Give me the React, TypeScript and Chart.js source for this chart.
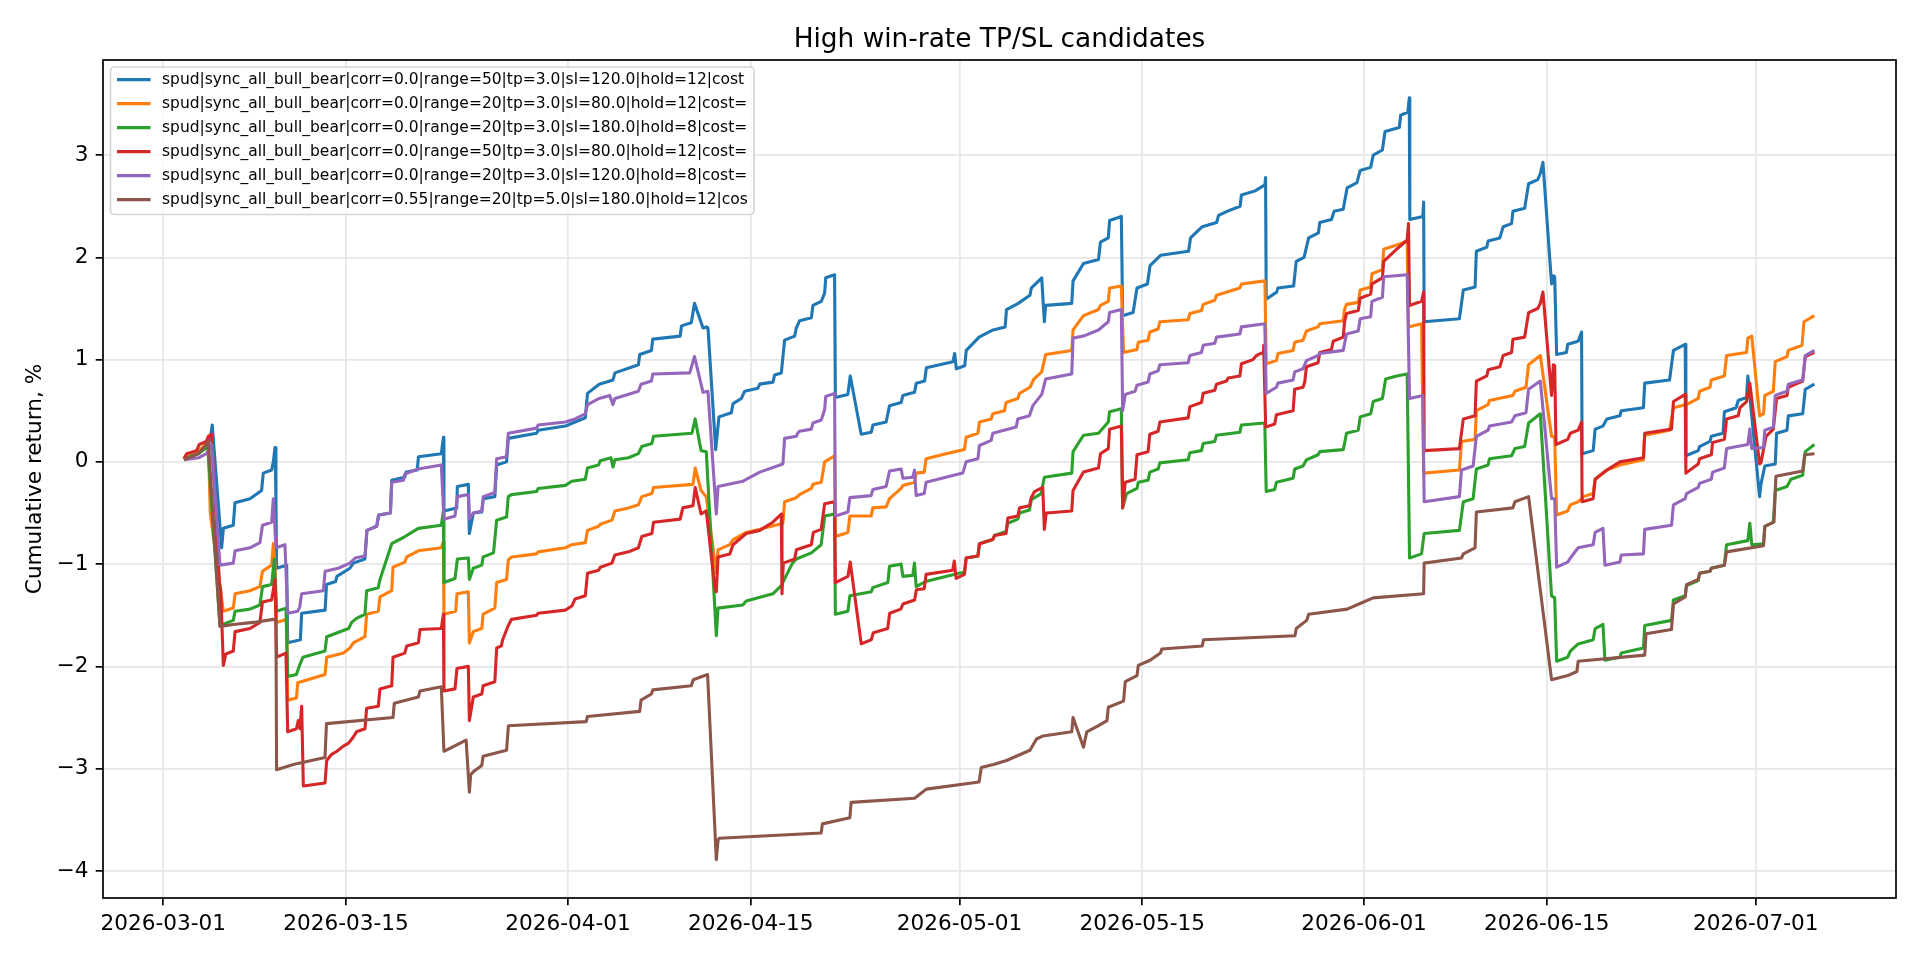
import { useEffect, useRef } from 'react';
import { Chart, registerables } from 'chart.js';

Chart.register(...registerables);

const TITLE = 'High win-rate TP/SL candidates';
const Y_LABEL = 'Cumulative return, %';

// x values are days since 2026-03-01
const xTickDays = [0, 14, 31, 45, 61, 75, 92, 106, 122];
const xTickLabels = ['2026-03-01', '2026-03-15', '2026-04-01', '2026-04-15', '2026-05-01', '2026-05-15', '2026-06-01', '2026-06-15', '2026-07-01'];
const yTicks = [-4, -3, -2, -1, 0, 1, 2, 3];

const seriesLabels = [
  'spud|sync_all_bull_bear|corr=0.0|range=50|tp=3.0|sl=120.0|hold=12|cost',
  'spud|sync_all_bull_bear|corr=0.0|range=20|tp=3.0|sl=80.0|hold=12|cost=',
  'spud|sync_all_bull_bear|corr=0.0|range=20|tp=3.0|sl=180.0|hold=8|cost=',
  'spud|sync_all_bull_bear|corr=0.0|range=50|tp=3.0|sl=80.0|hold=12|cost=',
  'spud|sync_all_bull_bear|corr=0.0|range=20|tp=3.0|sl=120.0|hold=8|cost=',
  'spud|sync_all_bull_bear|corr=0.55|range=20|tp=5.0|sl=180.0|hold=12|cos',
];
const seriesColors = ['#1f77b4', '#ff7f0e', '#2ca02c', '#d62728', '#9467bd', '#8c564b'];

// [day, cumulative return %]
const blueRet = [[1.58,0.03],[2.1,0.06],[2.7,0.1],[3.3,0.17],[3.6,0.22],[3.75,0.36],[4.47,-0.84],[4.6,-0.65],[5.36,-0.62],[5.49,-0.4],[6.64,-0.36],[7.53,-0.28],[7.66,-0.11],[8.3,-0.08],[8.43,0],[8.56,0.14],[8.63,-0.36],[8.68,-1.04],[9.45,-1.01],[9.53,-1.77],[10.5,-1.74],[10.6,-1.48],[12.4,-1.45],[12.5,-1.2],[13.2,-1.17],[13.3,-1.12],[14.3,-1.04],[14.55,-0.99],[15.45,-0.95],[15.6,-0.67],[16.35,-0.63],[16.5,-0.52],[17.4,-0.5],[17.5,-0.18],[18.5,-0.15],[18.6,-0.1],[19.45,-0.08],[19.55,0.05],[21.3,0.08],[21.46,0.24],[21.5,-0.48],[22.48,-0.45],[22.53,-0.24],[23.37,-0.22],[23.45,-0.7],[23.75,-0.5],[24.4,-0.49],[24.52,-0.36],[25.4,-0.34],[25.54,-0.03],[26.3,0.0],[26.43,0.23],[28.6,0.28],[28.72,0.31],[30.8,0.35],[31.55,0.39],[32.33,0.43],[32.5,0.67],[33.4,0.76],[34.45,0.8],[34.6,0.87],[36.4,0.95],[36.5,1.05],[37.4,1.09],[37.5,1.2],[39.6,1.23],[39.7,1.33],[40.45,1.36],[40.7,1.55],[41.35,1.31],[41.6,1.32],[41.73,1.31],[42.32,0.12],[42.57,0.44],[43.52,0.48],[43.65,0.57],[44.29,0.62],[44.54,0.69],[45.56,0.72],[45.69,0.76],[46.71,0.78],[46.84,0.85],[47.35,0.87],[47.6,1.19],[48.37,1.23],[48.5,1.31],[48.75,1.38],[49.65,1.41],[49.77,1.53],[50.41,1.57],[50.67,1.65],[50.75,1.8],[51.43,1.83],[51.49,0.63],[52.45,0.66],[52.63,0.84],[53.47,0.27],[54.24,0.29],[54.37,0.36],[55.38,0.39],[55.64,0.55],[56.53,0.58],[56.66,0.65],[57.55,0.68],[57.69,0.77],[58.33,0.79],[58.46,0.92],[60.5,0.98],[60.63,1.06],[60.76,0.91],[61.4,0.94],[61.52,1.09],[62.5,1.22],[63.57,1.29],[64.5,1.32],[64.6,1.49],[65.5,1.55],[66.4,1.63],[66.5,1.7],[67.3,1.8],[67.5,1.37],[67.6,1.53],[69.6,1.55],[69.7,1.77],[70.5,1.94],[71.65,1.98],[71.8,2.15],[72.4,2.19],[72.5,2.36],[73.4,2.4],[73.5,1.43],[74.3,1.46],[74.6,1.7],[75.4,1.74],[75.6,1.92],[76.4,2.02],[78.55,2.06],[78.7,2.19],[79.6,2.3],[80.7,2.34],[80.85,2.41],[81.5,2.45],[82.5,2.5],[82.6,2.61],[83.65,2.65],[84.4,2.71],[84.45,2.78],[84.5,1.59],[85.3,1.66],[85.4,1.7],[86.6,1.72],[86.8,1.96],[87.4,2.0],[87.75,2.19],[88.5,2.24],[88.6,2.34],[89.5,2.37],[89.7,2.45],[90.4,2.47],[90.7,2.68],[91.45,2.73],[91.7,2.85],[92.5,2.88],[92.7,3.0],[93.4,3.05],[93.6,3.23],[94.7,3.27],[94.8,3.39],[95.35,3.42],[95.46,3.56],[95.5,2.37],[96.5,2.4],[96.56,2.54],[96.6,1.37],[99.3,1.4],[99.6,1.68],[100.5,1.71],[100.6,2.06],[101.4,2.1],[101.5,2.16],[102.4,2.19],[102.65,2.3],[103.3,2.33],[103.4,2.45],[104.3,2.48],[104.6,2.72],[105.3,2.76],[105.5,2.82],[105.7,2.93],[106.36,1.74],[106.5,1.82],[106.6,1.81],[106.75,1.05],[107.5,1.07],[107.6,1.15],[108.4,1.18],[108.66,1.27],[108.7,0.08],[109.55,0.11],[109.7,0.32],[110.3,0.35],[110.6,0.42],[111.6,0.45],[111.7,0.5],[113.4,0.53],[113.5,0.77],[115.4,0.8],[115.7,1.09],[116.6,1.15],[116.65,0.06],[117.6,0.11],[117.7,0.15],[118.5,0.2],[118.6,0.25],[119.5,0.28],[119.6,0.49],[120.5,0.53],[120.66,0.6],[121.3,0.63],[121.4,0.84],[122.3,-0.34],[122.4,-0.22],[122.7,-0.04],[123.5,-0.02],[123.6,0.28],[124.4,0.31],[124.5,0.45],[125.6,0.47],[125.8,0.71],[126.5,0.76]];

const orangeRet = [[1.58,0.03],[2.7,0.1],[3.45,0.2],[3.6,-0.5],[4.6,-1.46],[5.36,-1.43],[5.5,-1.29],[6.64,-1.26],[7.4,-1.22],[7.6,-1.07],[8.3,-1.01],[8.43,-0.8],[8.56,-1.0],[8.68,-1.57],[9.45,-1.54],[9.53,-2.33],[10.2,-2.31],[10.3,-2.16],[12.39,-2.08],[12.52,-1.91],[13.8,-1.87],[14.3,-1.82],[14.56,-1.77],[15.45,-1.71],[15.58,-1.49],[16.47,-1.46],[16.6,-1.32],[17.5,-1.26],[17.6,-1.03],[18.5,-0.98],[18.65,-0.93],[19.54,-0.87],[21.3,-0.84],[21.46,-0.78],[21.5,-1.49],[22.4,-1.46],[22.5,-1.29],[23.37,-1.27],[23.45,-1.77],[23.75,-1.66],[24.4,-1.63],[24.5,-1.49],[25.4,-1.43],[25.54,-1.18],[26.3,-1.15],[26.43,-0.96],[26.68,-0.93],[28.6,-0.9],[28.72,-0.88],[30.8,-0.84],[31.3,-0.81],[32.33,-0.79],[32.5,-0.67],[33.35,-0.63],[33.48,-0.61],[34.37,-0.57],[34.6,-0.48],[35.64,-0.45],[36.4,-0.42],[36.66,-0.34],[37.43,-0.31],[37.56,-0.25],[40.58,-0.22],[40.75,-0.06],[41.2,-0.28],[41.6,-0.34],[42.37,-1.09],[42.5,-0.86],[43.4,-0.81],[43.65,-0.76],[44.66,-0.69],[45.7,-0.66],[47.47,-0.6],[47.6,-0.39],[48.5,-0.35],[48.75,-0.32],[49.65,-0.26],[49.77,-0.22],[50.41,-0.2],[50.67,0],[51.43,0.06],[51.49,-0.73],[52.45,-0.69],[52.6,-0.53],[54.23,-0.53],[54.36,-0.45],[55.38,-0.44],[55.64,-0.36],[56.53,-0.26],[56.66,-0.23],[57.55,-0.2],[57.68,-0.11],[58.3,-0.1],[58.44,0.03],[59.97,0.08],[61.38,0.12],[61.51,0.24],[62.41,0.28],[62.53,0.39],[63.43,0.42],[63.55,0.47],[64.44,0.5],[64.57,0.58],[65.47,0.62],[65.6,0.67],[66.4,0.73],[66.7,0.81],[67.3,0.88],[67.6,1.05],[69.6,1.09],[69.7,1.29],[70.5,1.43],[71.65,1.49],[71.8,1.53],[72.4,1.57],[72.5,1.7],[73.4,1.72],[73.57,1.07],[74.6,1.1],[74.7,1.17],[75.45,1.19],[75.58,1.27],[76.22,1.3],[76.35,1.37],[78.52,1.39],[78.65,1.45],[79.54,1.48],[79.67,1.54],[80.56,1.58],[80.69,1.63],[82.48,1.7],[82.6,1.74],[84.4,1.77],[84.5,0.96],[85.28,0.99],[85.4,1.06],[86.56,1.09],[86.68,1.17],[87.32,1.19],[87.58,1.28],[88.47,1.32],[88.6,1.35],[90.4,1.38],[90.5,1.49],[90.65,1.54],[91.55,1.56],[91.7,1.68],[92.5,1.71],[92.6,1.84],[93.4,1.88],[93.5,2.08],[94.5,2.12],[95.3,2.16],[95.4,1.32],[96.4,1.35],[96.56,-0.11],[99.3,-0.08],[99.46,0.2],[100.5,0.22],[100.6,0.5],[101.5,0.56],[101.6,0.6],[103.4,0.65],[103.55,0.69],[104.4,0.73],[104.6,0.95],[105.5,1.04],[106.36,0.25],[106.6,0.24],[106.75,-0.52],[107.6,-0.48],[107.8,-0.42],[108.4,-0.39],[108.66,-0.36],[108.8,-0.34],[109.55,-0.31],[109.7,-0.17],[110.6,-0.08],[111.6,-0.03],[113.4,0.02],[113.5,0.26],[115.4,0.31],[115.7,0.53],[116.7,0.56],[117.6,0.62],[117.7,0.69],[118.5,0.73],[118.6,0.8],[119.6,0.84],[119.77,1.04],[121.3,1.07],[121.4,1.21],[121.7,1.23],[122.3,0.45],[122.6,0.47],[122.7,0.65],[123.35,0.69],[123.5,0.98],[124.4,1.03],[124.5,1.09],[125.55,1.14],[125.7,1.37],[126.5,1.43]];

const greenRet = [[1.58,0.03],[2.7,0.08],[3.4,0.15],[4.34,-1.6],[5.36,-1.55],[5.5,-1.46],[6.64,-1.44],[7.4,-1.4],[7.6,-1.22],[8.3,-1.2],[8.5,-0.95],[8.68,-1.46],[9.4,-1.43],[9.53,-2.1],[10.2,-2.08],[10.47,-1.98],[10.7,-1.91],[12.39,-1.85],[12.52,-1.71],[14.2,-1.63],[14.43,-1.57],[14.8,-1.53],[15.45,-1.49],[15.58,-1.26],[16.47,-1.23],[16.6,-1.15],[17.5,-0.8],[18.52,-0.73],[19.54,-0.65],[21.3,-0.62],[21.46,-0.48],[21.5,-1.18],[22.35,-1.14],[22.53,-0.95],[23.37,-0.94],[23.45,-1.15],[23.75,-1.04],[24.4,-1.01],[24.5,-0.93],[25.3,-0.89],[25.54,-0.57],[26.3,-0.54],[26.43,-0.34],[26.68,-0.32],[28.6,-0.29],[28.72,-0.26],[30.8,-0.23],[31.3,-0.19],[32.33,-0.17],[32.5,-0.06],[33.35,-0.03],[33.48,0.01],[34.3,0.04],[34.45,-0.05],[34.6,0.02],[35.64,0.04],[36.4,0.08],[36.66,0.15],[37.43,0.18],[37.56,0.25],[40.5,0.28],[40.75,0.42],[41.2,0.11],[41.6,0.1],[42.37,-1.7],[42.5,-1.43],[44.4,-1.4],[44.66,-1.36],[46.7,-1.29],[47.35,-1.21],[48.2,-0.99],[48.5,-0.95],[49.65,-0.89],[50.4,-0.81],[50.67,-0.53],[51.43,-0.51],[51.49,-1.49],[52.45,-1.46],[52.6,-1.31],[54.24,-1.27],[54.36,-1.23],[55.51,-1.18],[55.64,-1.02],[56.53,-1.0],[56.66,-1.12],[57.42,-1.11],[57.55,-0.99],[57.68,-1.22],[58.4,-1.17],[60.96,-1.09],[61.38,-1.08],[61.51,-0.94],[62.41,-0.92],[62.53,-0.8],[63.55,-0.76],[63.68,-0.72],[64.57,-0.68],[64.7,-0.6],[65.47,-0.56],[65.6,-0.5],[66.36,-0.47],[66.5,-0.37],[67.26,-0.31],[67.5,-0.15],[69.6,-0.11],[69.7,0.1],[70.5,0.26],[71.65,0.28],[72.4,0.39],[72.5,0.49],[73.4,0.52],[73.5,-0.45],[73.8,-0.31],[74.6,-0.26],[74.7,-0.2],[75.45,-0.18],[75.58,-0.1],[76.22,-0.07],[76.35,-0.01],[78.52,0.02],[78.65,0.09],[79.54,0.11],[79.67,0.18],[80.56,0.2],[80.69,0.26],[82.48,0.29],[82.6,0.36],[84.39,0.38],[84.5,-0.29],[85.15,-0.27],[85.28,-0.2],[86.56,-0.16],[86.68,-0.07],[87.32,-0.04],[87.58,0.02],[88.47,0.07],[88.6,0.1],[90.4,0.12],[90.5,0.18],[90.65,0.28],[91.55,0.31],[91.7,0.44],[92.5,0.47],[92.7,0.59],[93.4,0.62],[93.65,0.81],[94.5,0.84],[95.3,0.86],[95.48,-0.94],[96.4,-0.9],[96.6,-0.7],[99.3,-0.67],[99.6,-0.39],[100.35,-0.36],[100.6,-0.07],[101.5,-0.03],[101.6,0.03],[103.3,0.06],[103.55,0.13],[104.3,0.15],[104.6,0.38],[105.5,0.47],[106.36,-1.31],[106.6,-1.33],[106.75,-1.95],[107.6,-1.91],[107.8,-1.85],[108.4,-1.78],[109.55,-1.74],[109.7,-1.63],[110.3,-1.59],[110.45,-1.94],[111.6,-1.91],[111.7,-1.87],[113.4,-1.82],[113.5,-1.6],[115.55,-1.55],[115.7,-1.35],[116.6,-1.31],[116.7,-1.21],[117.6,-1.16],[117.7,-1.09],[118.5,-1.07],[118.6,-1.04],[119.6,-1.01],[119.77,-0.81],[121.4,-0.77],[121.55,-0.6],[121.7,-0.81],[122.6,-0.8],[122.7,-0.63],[123.35,-0.59],[123.5,-0.28],[124.4,-0.24],[124.7,-0.17],[125.6,-0.13],[125.8,0.1],[126.5,0.17]];

const redRet = [[1.58,0.03],[1.79,0.08],[2.55,0.11],[2.76,0.17],[3.3,0.2],[3.45,0.25],[3.7,0.27],[4.3,-1.18],[4.4,-1.26],[4.6,-1.99],[4.78,-1.88],[5.36,-1.85],[5.5,-1.66],[6.64,-1.63],[7.4,-1.57],[7.6,-1.37],[8.3,-1.35],[8.56,-1.15],[8.68,-1.91],[9.4,-1.87],[9.53,-2.64],[10.2,-2.61],[10.34,-2.53],[10.47,-2.61],[10.6,-2.39],[10.73,-3.17],[12.39,-3.14],[12.52,-2.92],[12.9,-2.86],[13.3,-2.83],[13.8,-2.78],[14.2,-2.75],[14.56,-2.69],[14.8,-2.64],[15.45,-2.61],[15.58,-2.41],[16.47,-2.39],[16.6,-2.22],[17.5,-2.19],[17.6,-1.91],[18.5,-1.87],[18.65,-1.8],[19.54,-1.77],[19.67,-1.64],[21.3,-1.63],[21.46,-1.49],[21.5,-2.24],[22.35,-2.22],[22.5,-2.02],[23.37,-2.0],[23.45,-2.53],[23.75,-2.3],[24.4,-2.27],[24.5,-2.19],[25.4,-2.15],[25.54,-1.82],[25.9,-1.8],[26.0,-1.74],[26.43,-1.6],[26.68,-1.54],[28.6,-1.5],[28.72,-1.48],[30.8,-1.45],[31.3,-1.41],[31.55,-1.34],[32.33,-1.31],[32.5,-1.09],[33.35,-1.06],[33.48,-1.03],[34.37,-0.99],[34.6,-0.91],[35.64,-0.88],[36.4,-0.84],[36.66,-0.73],[37.43,-0.7],[37.56,-0.59],[39.6,-0.56],[39.8,-0.45],[40.58,-0.43],[40.75,-0.25],[41.2,-0.51],[41.6,-0.48],[42.24,-1.21],[42.37,-1.27],[42.5,-0.93],[43.4,-0.9],[43.65,-0.81],[44.66,-0.7],[45.7,-0.67],[46.7,-0.59],[47.35,-0.51],[47.4,-1.29],[47.5,-0.99],[48.37,-0.95],[48.5,-0.86],[49.65,-0.81],[49.8,-0.69],[50.4,-0.66],[50.67,-0.41],[51.43,-0.39],[51.49,-1.18],[52.45,-1.12],[52.63,-0.98],[53.47,-1.78],[54.24,-1.74],[54.4,-1.67],[55.5,-1.63],[55.65,-1.48],[56.5,-1.44],[56.67,-1.39],[57.56,-1.35],[57.7,-1.25],[58.3,-1.24],[58.44,-1.1],[60.48,-1.06],[60.6,-0.97],[60.74,-1.14],[61.38,-1.1],[61.51,-0.94],[62.41,-0.92],[62.53,-0.8],[63.55,-0.76],[63.68,-0.72],[64.57,-0.7],[64.7,-0.55],[65.47,-0.53],[65.6,-0.45],[66.36,-0.43],[66.5,-0.35],[66.75,-0.29],[67.38,-0.25],[67.5,-0.66],[67.64,-0.5],[69.6,-0.48],[69.7,-0.28],[70.5,-0.1],[71.65,-0.06],[71.8,0.08],[72.4,0.13],[72.5,0.32],[73.4,0.35],[73.5,-0.45],[73.7,-0.2],[74.45,-0.17],[74.6,0.07],[75.45,0.1],[75.58,0.27],[76.22,0.3],[76.35,0.39],[78.52,0.43],[78.65,0.54],[79.54,0.58],[79.67,0.67],[80.56,0.7],[80.69,0.76],[81.46,0.79],[81.58,0.82],[82.48,0.84],[82.6,0.96],[83.49,1.0],[83.75,1.04],[84.26,1.07],[84.3,1.14],[84.46,0.34],[85.15,0.37],[85.28,0.46],[86.56,0.5],[86.68,0.71],[87.32,0.73],[87.45,0.78],[87.58,0.93],[88.47,0.97],[88.6,1.07],[89.5,1.1],[89.63,1.18],[90.4,1.22],[90.5,1.37],[90.65,1.45],[91.55,1.48],[91.7,1.6],[92.5,1.64],[92.6,1.74],[93.4,1.8],[93.5,1.96],[94.5,2.08],[95.3,2.17],[95.4,2.33],[95.48,1.53],[96.4,1.57],[96.56,1.66],[96.6,0.11],[99.3,0.13],[99.6,0.42],[100.5,0.45],[100.6,0.79],[101.4,0.84],[101.5,0.9],[102.4,0.93],[102.65,1.04],[103.3,1.07],[103.4,1.2],[104.3,1.22],[104.6,1.46],[105.3,1.5],[105.5,1.55],[105.7,1.66],[106.36,0.65],[106.5,0.95],[106.6,0.94],[106.7,0.17],[107.6,0.22],[107.8,0.28],[108.4,0.31],[108.66,0.39],[108.7,-0.39],[109.55,-0.36],[109.7,-0.17],[110.6,-0.08],[111.6,0],[113.4,0.04],[113.5,0.28],[115.55,0.32],[115.7,0.59],[116.6,0.66],[116.65,-0.11],[117.6,-0.02],[117.7,0.03],[118.6,0.07],[118.7,0.19],[119.6,0.22],[119.77,0.42],[120.66,0.45],[120.8,0.53],[121.3,0.59],[121.55,0.77],[122.3,-0.02],[122.4,-0.01],[122.8,0.25],[123.35,0.32],[123.6,0.62],[124.4,0.65],[124.5,0.73],[125.6,0.79],[125.8,1.03],[126.5,1.07]];

const purpleRet = [[1.58,0.02],[2.7,0.04],[3.3,0.08],[3.7,0.17],[4.34,-1.01],[5.36,-0.99],[5.5,-0.87],[6.64,-0.84],[7.4,-0.79],[7.6,-0.62],[8.3,-0.59],[8.43,-0.36],[8.63,-0.84],[9.32,-0.81],[9.53,-1.48],[10.3,-1.46],[10.45,-1.42],[10.6,-1.29],[12.26,-1.26],[12.4,-1.07],[13.4,-1.04],[14.3,-0.99],[14.7,-0.94],[15.45,-0.92],[15.6,-0.67],[16.35,-0.63],[16.5,-0.52],[17.4,-0.5],[17.5,-0.2],[18.4,-0.18],[18.5,-0.12],[19.5,-0.07],[21.3,-0.03],[21.5,-0.56],[22.35,-0.53],[22.53,-0.34],[23.37,-0.32],[23.45,-0.56],[23.75,-0.5],[24.4,-0.48],[24.52,-0.34],[25.4,-0.3],[25.54,0.03],[26.3,0.05],[26.43,0.28],[28.6,0.33],[28.72,0.36],[30.8,0.39],[31.55,0.42],[32.33,0.47],[32.5,0.56],[33.4,0.62],[34.2,0.65],[34.45,0.56],[34.6,0.62],[36.4,0.69],[36.6,0.76],[37.4,0.79],[37.5,0.86],[40.33,0.87],[40.7,1.03],[41.35,0.68],[41.73,0.69],[42.37,-0.51],[42.5,-0.24],[44.4,-0.19],[44.66,-0.17],[45.7,-0.1],[47.47,-0.02],[47.6,0.23],[48.5,0.25],[48.6,0.28],[48.75,0.3],[49.65,0.32],[49.77,0.38],[50.41,0.41],[50.67,0.51],[50.75,0.64],[51.43,0.67],[51.49,-0.53],[52.45,-0.49],[52.6,-0.35],[54.23,-0.33],[54.36,-0.27],[55.38,-0.24],[55.64,-0.09],[56.53,-0.07],[56.66,-0.16],[57.42,-0.15],[57.55,-0.08],[57.68,-0.33],[58.3,-0.31],[58.44,-0.2],[61.25,-0.11],[61.51,0],[62.41,0.03],[62.53,0.16],[63.43,0.21],[63.55,0.28],[65.34,0.34],[65.47,0.42],[66.36,0.45],[66.62,0.55],[67.3,0.66],[67.6,0.81],[69.6,0.86],[69.7,1.21],[70.5,1.23],[71.65,1.29],[72.4,1.37],[72.5,1.46],[73.4,1.49],[73.5,0.5],[73.7,0.66],[74.45,0.69],[74.6,0.75],[75.45,0.78],[75.58,0.86],[76.22,0.89],[76.35,0.95],[78.52,0.97],[78.65,1.04],[79.54,1.07],[79.67,1.14],[80.56,1.16],[80.69,1.22],[82.48,1.25],[82.6,1.32],[84.39,1.35],[84.5,0.67],[85.28,0.73],[85.4,0.77],[86.56,0.8],[86.68,0.88],[87.32,0.91],[87.58,0.99],[88.47,1.04],[88.6,1.06],[90.4,1.09],[90.65,1.25],[91.55,1.28],[91.7,1.4],[92.5,1.42],[92.6,1.57],[93.4,1.61],[93.5,1.81],[95.3,1.83],[95.48,0.62],[96.5,0.65],[96.6,-0.39],[99.3,-0.34],[99.46,-0.08],[100.35,-0.04],[100.6,0.25],[101.5,0.31],[101.6,0.35],[103.3,0.39],[103.55,0.45],[104.4,0.48],[104.6,0.71],[105.5,0.79],[106.36,-0.36],[106.6,-0.36],[106.75,-1.03],[107.6,-0.98],[107.8,-0.94],[108.4,-0.84],[109.55,-0.81],[109.7,-0.69],[110.3,-0.65],[110.45,-1.01],[111.6,-0.98],[111.7,-0.91],[113.4,-0.9],[113.5,-0.66],[115.55,-0.62],[115.7,-0.42],[116.6,-0.36],[116.7,-0.31],[117.6,-0.25],[117.7,-0.21],[118.6,-0.17],[118.7,-0.1],[119.6,-0.06],[119.77,0.13],[121.4,0.17],[121.55,0.32],[121.7,0.13],[122.6,0.14],[122.7,0.31],[123.35,0.34],[123.5,0.65],[124.4,0.69],[124.5,0.76],[125.6,0.8],[125.8,1.04],[126.5,1.09]];

const brownRet = [[1.58,0.02],[2.68,0.08],[3.3,0.17],[3.45,0.2],[4.34,-1.61],[5.36,-1.59],[6.9,-1.57],[8.43,-1.54],[8.63,-1.55],[8.68,-3.01],[9.96,-2.96],[12.39,-2.89],[12.5,-2.56],[17.6,-2.5],[17.7,-2.36],[19.54,-2.3],[19.67,-2.24],[21.3,-2.2],[21.5,-2.83],[23.2,-2.72],[23.45,-3.23],[23.55,-3.06],[23.75,-3.03],[24.4,-2.97],[24.5,-2.88],[26.3,-2.82],[26.44,-2.58],[32.4,-2.54],[32.5,-2.49],[36.5,-2.44],[36.6,-2.33],[37.4,-2.27],[37.5,-2.23],[40.45,-2.19],[40.6,-2.13],[41.7,-2.08],[42.37,-3.89],[42.5,-3.7],[42.6,-3.68],[50.4,-3.63],[50.5,-3.54],[52.6,-3.48],[52.7,-3.33],[57.56,-3.29],[58.46,-3.2],[62.5,-3.13],[62.67,-2.99],[63.6,-2.96],[64.6,-2.92],[66.4,-2.82],[66.9,-2.71],[67.4,-2.68],[69.6,-2.64],[69.7,-2.5],[70.5,-2.79],[70.75,-2.64],[71.65,-2.58],[72.3,-2.53],[72.4,-2.4],[73.57,-2.34],[73.7,-2.15],[74.6,-2.09],[74.7,-1.99],[75.6,-1.94],[76.4,-1.87],[76.5,-1.83],[79.6,-1.8],[79.7,-1.74],[86.7,-1.7],[86.8,-1.63],[87.6,-1.55],[87.75,-1.49],[90.7,-1.44],[91.96,-1.37],[92.7,-1.33],[96.56,-1.29],[96.6,-0.99],[99.46,-0.94],[99.6,-0.9],[100.5,-0.84],[100.6,-0.49],[103.4,-0.45],[103.55,-0.39],[104.6,-0.34],[106.36,-2.13],[107.6,-2.09],[108.3,-2.05],[108.4,-1.95],[113.5,-1.89],[113.6,-1.68],[115.55,-1.64],[115.7,-1.39],[116.6,-1.32],[116.7,-1.2],[117.6,-1.15],[117.7,-1.09],[118.5,-1.07],[118.6,-1.04],[119.6,-1.01],[119.77,-0.88],[122.6,-0.82],[122.7,-0.63],[123.4,-0.59],[123.55,-0.14],[125.6,-0.09],[125.75,0.07],[126.5,0.08]];

const allSeries = [blueRet, orangeRet, greenRet, redRet, purpleRet, brownRet];

const FONT = "'DejaVu Sans', 'Liberation Sans', sans-serif";

function fmtTick(v: number): string {
  return v < 0 ? '\u2212' + Math.abs(v) : String(v);
}

export default function App() {
  const canvasRef = useRef<HTMLCanvasElement>(null);

  useEffect(() => {
    document.body.style.margin = '0';
    const canvas = canvasRef.current;
    if (!canvas) return;

    const decor = {
      id: 'mplDecor',
      afterDraw(chart: any) {
        const { ctx, chartArea: a } = chart;
        ctx.save();
        // frame
        ctx.strokeStyle = '#000';
        ctx.lineWidth = 1.7;
        ctx.strokeRect(a.left, a.top, a.right - a.left, a.bottom - a.top);
        // title
        ctx.fillStyle = '#000';
        ctx.font = `26.4px ${FONT}`;
        ctx.textAlign = 'center';
        ctx.textBaseline = 'alphabetic';
        ctx.fillText(TITLE, (a.left + a.right) / 2, a.top - 13);
        // y label
        ctx.save();
        ctx.translate(35, (a.top + a.bottom) / 2);
        ctx.rotate(-Math.PI / 2);
        ctx.font = `21.6px ${FONT}`;
        ctx.textAlign = 'center';
        ctx.textBaseline = 'middle';
        ctx.fillText(Y_LABEL, 0, 0);
        ctx.restore();
        // legend
        const bx = a.left + 7.5;
        const by = a.top + 7;
        const bw = 643.5;
        const bh = 147.5;
        ctx.beginPath();
        if (ctx.roundRect) ctx.roundRect(bx, by, bw, bh, 4);
        else ctx.rect(bx, by, bw, bh);
        ctx.fillStyle = 'rgba(255,255,255,0.8)';
        ctx.fill();
        ctx.strokeStyle = 'rgba(204,204,204,0.8)';
        ctx.lineWidth = 1.7;
        ctx.stroke();
        ctx.font = `15.5px ${FONT}`;
        ctx.textAlign = 'left';
        ctx.textBaseline = 'middle';
        seriesLabels.forEach((lab, i) => {
          const y = by + 12.6 + i * 24;
          ctx.beginPath();
          ctx.moveTo(bx + 6.5, y);
          ctx.lineTo(bx + 40, y);
          ctx.strokeStyle = seriesColors[i];
          ctx.lineWidth = 3.1;
          ctx.stroke();
          ctx.fillStyle = '#000';
          ctx.fillText(lab, bx + 51.5, y + 0.5);
        });
        ctx.restore();
      },
    };

    const tickFont = { family: FONT, size: 21.6 };

    const chart = new Chart(canvas, {
      type: 'line',
      data: {
        datasets: allSeries.map((pts, i) => ({
          label: seriesLabels[i],
          data: pts.map(([x, y]) => ({ x, y })),
          borderColor: seriesColors[i],
          backgroundColor: seriesColors[i],
          borderWidth: 3.1,
          pointRadius: 0,
          pointHoverRadius: 0,
          tension: 0,
          fill: false,
          order: allSeries.length - i,
          borderJoinStyle: 'round' as const,
          borderCapStyle: 'butt' as const,
        })),
      },
      options: {
        animation: false,
        responsive: false,
        devicePixelRatio: 1,
        events: [],
        layout: { padding: { left: 0, right: 24, top: 60, bottom: 0 } },
        plugins: {
          legend: { display: false },
          tooltip: { enabled: false },
          title: { display: false },
        },
        scales: {
          x: {
            type: 'linear',
            min: -4.62,
            max: 132.75,
            afterBuildTicks: (s: any) => {
              s.ticks = xTickDays.map((v) => ({ value: v }));
            },
            afterFit: (s: any) => {
              s.height = 62;
            },
            ticks: {
              callback: (v: any) => xTickLabels[xTickDays.indexOf(Number(v))] ?? '',
              font: tickFont,
              color: '#000',
              padding: 6,
              maxRotation: 0,
              minRotation: 0,
              autoSkip: false,
            },
            grid: {
              color: '#e6e6e6',
              lineWidth: 1.7,
              tickColor: '#000',
              tickWidth: 1.7,
              tickLength: 7.3,
              drawTicks: true,
            },
            border: { display: false },
          },
          y: {
            type: 'linear',
            min: -4.265,
            max: 3.93,
            afterBuildTicks: (s: any) => {
              s.ticks = yTicks.map((v) => ({ value: v }));
            },
            afterFit: (s: any) => {
              s.width = 103;
            },
            ticks: {
              callback: (v: any) => fmtTick(Number(v)),
              font: tickFont,
              color: '#000',
              padding: 7.3,
            },
            grid: {
              color: '#e6e6e6',
              lineWidth: 1.7,
              tickColor: '#000',
              tickWidth: 1.7,
              tickLength: 7.3,
              drawTicks: true,
            },
            border: { display: false },
          },
        },
      },
      plugins: [decor],
    } as any);

    return () => {
      chart.destroy();
    };
  }, []);

  return (
    <div style={{ position: 'absolute', left: 0, top: 0, width: 1920, height: 960, background: '#fff' }}>
      <canvas ref={canvasRef} width={1920} height={960} style={{ display: 'block', width: 1920, height: 960 }} />
    </div>
  );
}
